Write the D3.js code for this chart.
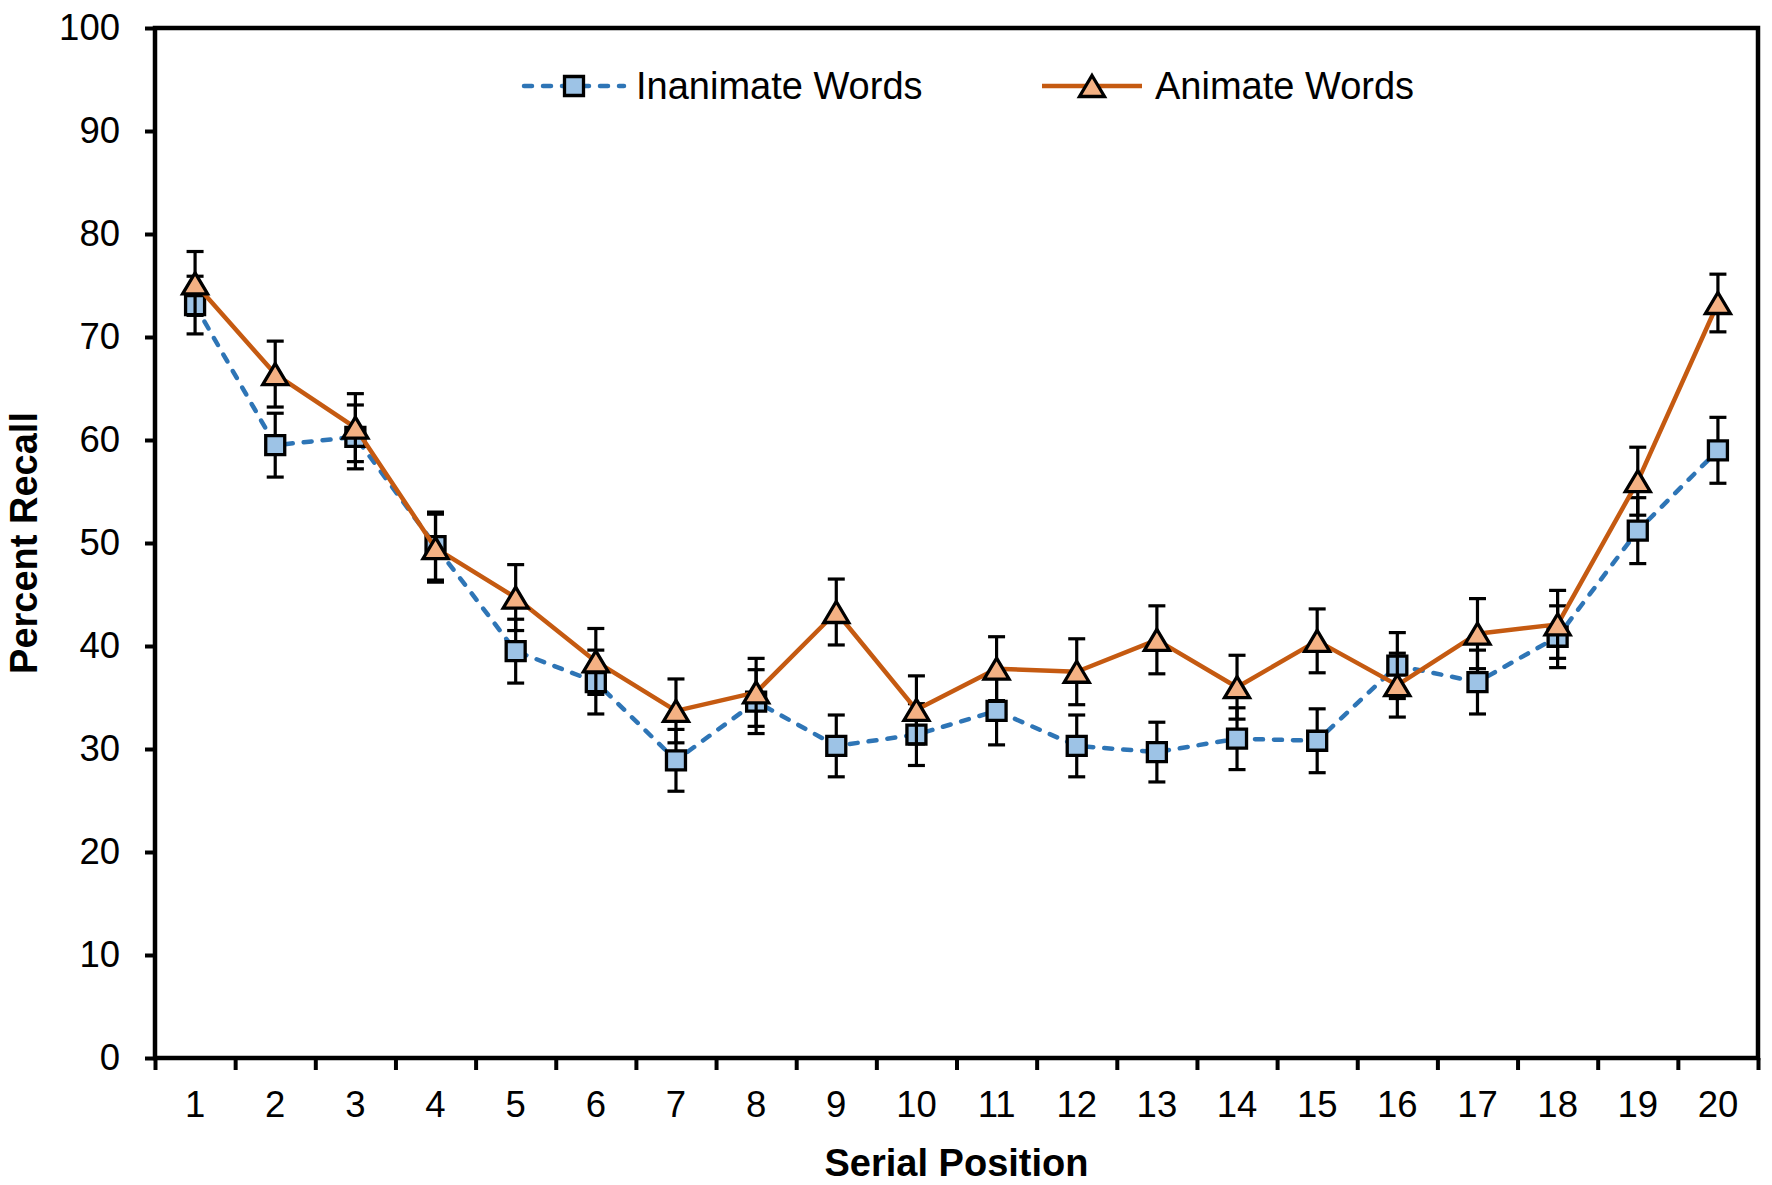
<!DOCTYPE html>
<html>
<head>
<meta charset="utf-8">
<script src="https://cdn.jsdelivr.net/npm/d3@7"></script>
<style>
  body { margin: 0; background: #ffffff; }
  svg { display: block; }
  text { font-family: "Liberation Sans", Arial, Helvetica, sans-serif; fill: #000; }
</style>
</head>
<body>
<svg id="chart" width="1772" height="1185"></svg>
<script>
// ---------------- data ----------------
const categories = ["1","2","3","4","5","6","7","8","9","10","11","12","13","14","15","16","17","18","19","20"];
const inanimate    = [73.1, 59.5, 60.3, 49.7, 39.5, 36.5, 28.9, 34.6, 30.3, 31.4, 33.7, 30.3, 29.7, 31.0, 30.8, 38.1, 36.5, 40.9, 51.2, 59.0];
const inanimateErr = [2.8, 3.1, 3.1, 3.3, 3.1, 3.1, 3.0, 3.1, 3.0, 3.0, 3.3, 3.0, 2.9, 3.0, 3.1, 3.2, 3.1, 3.0, 3.2, 3.2];
const animate      = [75.2, 66.4, 61.2, 49.5, 44.7, 38.5, 33.7, 35.5, 43.3, 33.8, 37.8, 37.5, 40.6, 36.0, 40.5, 36.2, 41.2, 42.1, 56.0, 73.3];
const animateErr   = [3.1, 3.2, 3.3, 3.3, 3.2, 3.2, 3.1, 3.3, 3.2, 3.3, 3.1, 3.2, 3.3, 3.1, 3.1, 3.1, 3.4, 3.3, 3.3, 2.8];
const yTicks = [0, 10, 20, 30, 40, 50, 60, 70, 80, 90, 100];
const seriesNames = ["Inanimate Words", "Animate Words"];
const xTitle = "Serial Position";
const yTitle = "Percent Recall";

// ---------------- layout ----------------
const W = 1772, H = 1185;
const plot = { left: 155, right: 1758, top: 28, bottom: 1058 };

const svg = d3.select("#chart");

const x = d3.scaleBand().domain(categories).range([plot.left, plot.right]).padding(0);
const xEdge = d3.scaleLinear().domain([0, categories.length]).range([plot.left, plot.right]);
const y = d3.scaleLinear().domain([0, 100]).range([plot.bottom, plot.top]);
const cx = (c) => x(c) + x.bandwidth() / 2;

// y axis
const yAxis = svg.append("g")
  .attr("transform", `translate(${plot.left},0)`)
  .call(d3.axisLeft(y).tickValues(yTicks).tickSize(10).tickPadding(25).tickFormat(d3.format("d")));
yAxis.select(".domain").remove();
yAxis.selectAll(".tick line").attr("stroke", "#000").attr("stroke-width", 4);
yAxis.selectAll(".tick text").style("font-size", "36.5px").attr("fill", "#000");

// x axis labels (band centres)
const xLab = svg.append("g")
  .attr("transform", `translate(0,${plot.bottom})`)
  .call(d3.axisBottom(x).tickSize(0).tickPadding(33));
xLab.select(".domain").remove();
xLab.selectAll(".tick text").style("font-size", "36.5px").attr("fill", "#000");

// x axis ticks at band edges
const xTicks = svg.append("g")
  .attr("transform", `translate(0,${plot.bottom})`)
  .call(d3.axisBottom(xEdge).tickValues(d3.range(0, categories.length + 1)).tickSize(12).tickFormat(""));
xTicks.select(".domain").remove();
xTicks.selectAll(".tick line").attr("stroke", "#000").attr("stroke-width", 4);

// plot frame
svg.append("rect")
  .attr("x", plot.left).attr("y", plot.top)
  .attr("width", plot.right - plot.left).attr("height", plot.bottom - plot.top)
  .attr("fill", "none").attr("stroke", "#000").attr("stroke-width", 4.5);

// axis titles
svg.append("text")
  .attr("x", (plot.left + plot.right) / 2).attr("y", 1176)
  .attr("text-anchor", "middle")
  .style("font-size", "38px").style("font-weight", "bold")
  .text(xTitle);

svg.append("text")
  .attr("transform", `translate(37,${(plot.top + plot.bottom) / 2}) rotate(-90)`)
  .attr("text-anchor", "middle")
  .style("font-size", "38px").style("font-weight", "bold")
  .text(yTitle);

// ---------------- series ----------------
const styles = [
  { line: "#2E75B6", fill: "#9DC3E6", dash: "8,11", marker: "square" },
  { line: "#C55A11", fill: "#F4B183", dash: null,   marker: "triangle" }
];
const seriesData = [
  categories.map((c, i) => ({ c, v: inanimate[i], e: inanimateErr[i] })),
  categories.map((c, i) => ({ c, v: animate[i],   e: animateErr[i] }))
];

function markerPath(type, px, py) {
  if (type === "square") {
    const s = 19;
    return `M${px - s/2},${py - s/2}h${s}v${s}h${-s}Z`;
  }
  const w = 25, h = 21;
  return `M${px},${py - h/2}L${px + w/2},${py + h/2}L${px - w/2},${py + h/2}Z`;
}

const line = d3.line().x(d => cx(d.c)).y(d => y(d.v));

seriesData.forEach((data, si) => {
  const st = styles[si];
  const g = svg.append("g");
  // line
  const p = g.append("path").datum(data)
    .attr("d", line)
    .attr("fill", "none")
    .attr("stroke", st.line)
    .attr("stroke-width", 4.5)
    .attr("stroke-linejoin", "round");
  if (st.dash) p.attr("stroke-dasharray", st.dash).attr("stroke-linecap", "round");

  // error bars
  const eb = g.selectAll(".eb").data(data).enter().append("g");
  eb.append("line")
    .attr("x1", d => cx(d.c)).attr("x2", d => cx(d.c))
    .attr("y1", d => y(d.v - d.e)).attr("y2", d => y(d.v + d.e))
    .attr("stroke", "#000").attr("stroke-width", 3.2);
  eb.append("line")
    .attr("x1", d => cx(d.c) - 8.5).attr("x2", d => cx(d.c) + 8.5)
    .attr("y1", d => y(d.v + d.e)).attr("y2", d => y(d.v + d.e))
    .attr("stroke", "#000").attr("stroke-width", 3.2);
  eb.append("line")
    .attr("x1", d => cx(d.c) - 8.5).attr("x2", d => cx(d.c) + 8.5)
    .attr("y1", d => y(d.v - d.e)).attr("y2", d => y(d.v - d.e))
    .attr("stroke", "#000").attr("stroke-width", 3.2);

  // markers
  g.selectAll(".mk").data(data).enter().append("path")
    .attr("d", d => markerPath(st.marker, cx(d.c), y(d.v)))
    .attr("fill", st.fill)
    .attr("stroke", "#000")
    .attr("stroke-width", 3.3)
    .attr("stroke-linejoin", "miter");
});

// ---------------- legend ----------------
const legendItems = [
  { name: seriesNames[0], st: styles[0], x0: 524, x1: 624, tx: 636 },
  { name: seriesNames[1], st: styles[1], x0: 1042, x1: 1142, tx: 1155 }
];
const ly = 86;
legendItems.forEach(it => {
  const g = svg.append("g");
  const l = g.append("line")
    .attr("x1", it.x0).attr("x2", it.x1).attr("y1", ly).attr("y2", ly)
    .attr("stroke", it.st.line).attr("stroke-width", 4.5);
  if (it.st.dash) l.attr("stroke-dasharray", it.st.dash).attr("stroke-linecap", "round");
  g.append("path")
    .attr("d", markerPath(it.st.marker, (it.x0 + it.x1) / 2, ly))
    .attr("fill", it.st.fill).attr("stroke", "#000").attr("stroke-width", 3.3);
  g.append("text")
    .attr("x", it.tx).attr("y", ly)
    .attr("dy", "0.35em")
    .style("font-size", "38px")
    .text(it.name);
});
</script>
</body>
</html>
